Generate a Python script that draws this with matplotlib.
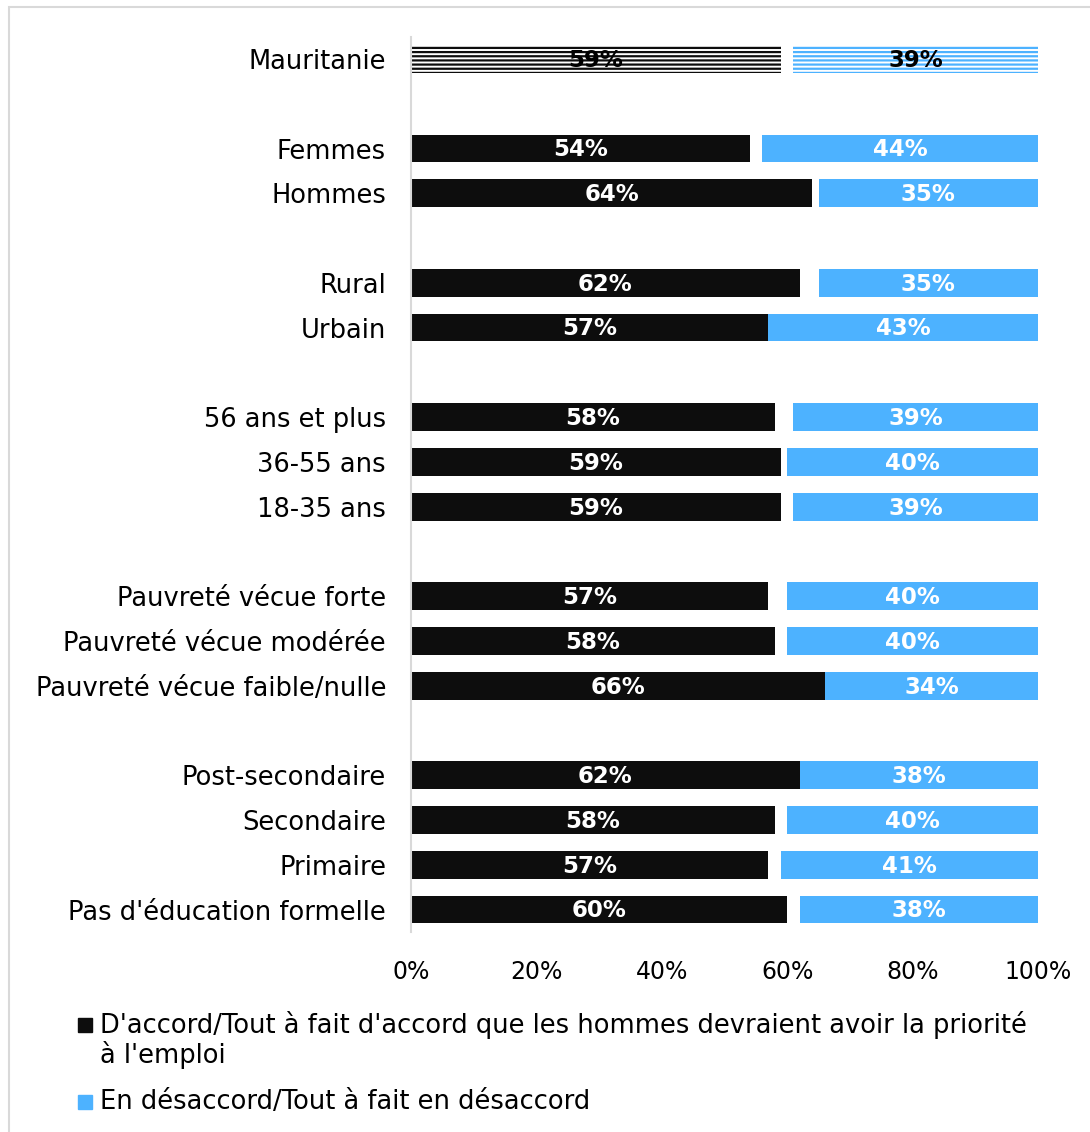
import matplotlib.pyplot as plt
import matplotlib.patches as mpatches
import numpy as np

categories = ['Mauritanie', 'Femmes', 'Hommes', 'Rural', 'Urbain',
              '56 ans et plus', '36-55 ans', '18-35 ans',
              'Pauvreté vécue forte', 'Pauvreté vécue modérée', 'Pauvreté vécue faible/nulle',
              'Post-secondaire', 'Secondaire', 'Primaire', "Pas d'éducation formelle"]
agree = [59, 54, 64, 62, 57, 58, 59, 59, 57, 58, 66, 62, 58, 57, 60]
disagree = [39, 44, 35, 35, 43, 39, 40, 39, 40, 40, 34, 38, 40, 41, 38]
slots = [0, 2, 3, 5, 6, 8, 9, 10, 12, 13, 14, 16, 17, 18, 19]
xticks = [0, 20, 40, 60, 80, 100]

label_agree = ["D'accord/Tout à fait d'accord que les hommes devraient avoir la priorité",
               "à l'emploi"]
label_disagree = 'En désaccord/Tout à fait en désaccord'

BLACK = '#0D0D0D'
BLUE = '#4DB2FF'

plt.rcParams['font.family'] = ['DejaVu Sans']
plt.rcParams['hatch.linewidth'] = 1.6

fig = plt.figure(figsize=(10.9, 11.32), dpi=100)
ax = fig.add_axes([411 / 1090, 1 - 932 / 1132, 627 / 1090, (932 - 36.6) / 1132])

agree = np.array(agree)
disagree = np.array(disagree)
y = np.array(slots)
left_blue = 100 - disagree

for i in range(len(categories)):
    if i == 0:
        ax.barh(y[i], agree[i], height=0.62, color='white', edgecolor=BLACK,
                hatch='----', linewidth=0)
        ax.barh(y[i], disagree[i], left=left_blue[i], height=0.62, color='white',
                edgecolor=BLUE, hatch='----', linewidth=0)
        tc = 'black'
    else:
        ax.barh(y[i], agree[i], height=0.62, color=BLACK, linewidth=0)
        ax.barh(y[i], disagree[i], left=left_blue[i], height=0.62, color=BLUE, linewidth=0)
        tc = 'white'
    ax.text(agree[i] / 2, y[i] + 0.03, f'{agree[i]}%', ha='center', va='center',
            color=tc, fontsize=16.5, fontweight='bold')
    ax.text(left_blue[i] + disagree[i] / 2, y[i] + 0.03, f'{disagree[i]}%', ha='center',
            va='center', color=tc, fontsize=16.5, fontweight='bold')

ax.set_ylim(19.5, -0.5)
ax.set_xlim(0, 100)
ax.set_yticks(y)
ax.set_yticklabels(categories, fontsize=18.5, va='center_baseline')
ax.set_xticks(xticks)
ax.set_xticklabels([f'{t}%' for t in xticks], fontsize=17)
ax.tick_params(length=0, pad=18, axis='y')
ax.tick_params(length=0, pad=20, axis='x')
for s in ['top', 'right', 'bottom']:
    ax.spines[s].set_visible(False)
ax.spines['left'].set_color('#D9D9D9')
ax.spines['left'].set_linewidth(1.5)

# legend
fig.patches.append(mpatches.Rectangle((78 / 1090, 1 - 1032 / 1132), 14 / 1090, 14 / 1132,
                                      transform=fig.transFigure, color=BLACK))
fig.text(100 / 1090, 1 - 1025 / 1132, label_agree[0], fontsize=18.5, va='center', ha='left')
fig.text(100 / 1090, 1 - 1055 / 1132, label_agree[1], fontsize=18.5, va='center', ha='left')
fig.patches.append(mpatches.Rectangle((78 / 1090, 1 - 1109 / 1132), 14 / 1090, 14 / 1132,
                                      transform=fig.transFigure, color=BLUE))
fig.text(100 / 1090, 1 - 1102 / 1132, label_disagree, fontsize=18.5, va='center', ha='left')

# outer frame
fig.patches.append(mpatches.Rectangle((9 / 1090, -0.1), 1.2, 1.1 - 7 / 1132,
                                      transform=fig.transFigure, fill=False,
                                      edgecolor='#D9D9D9', linewidth=1.5))

fig.savefig('out.png', dpi=100)
